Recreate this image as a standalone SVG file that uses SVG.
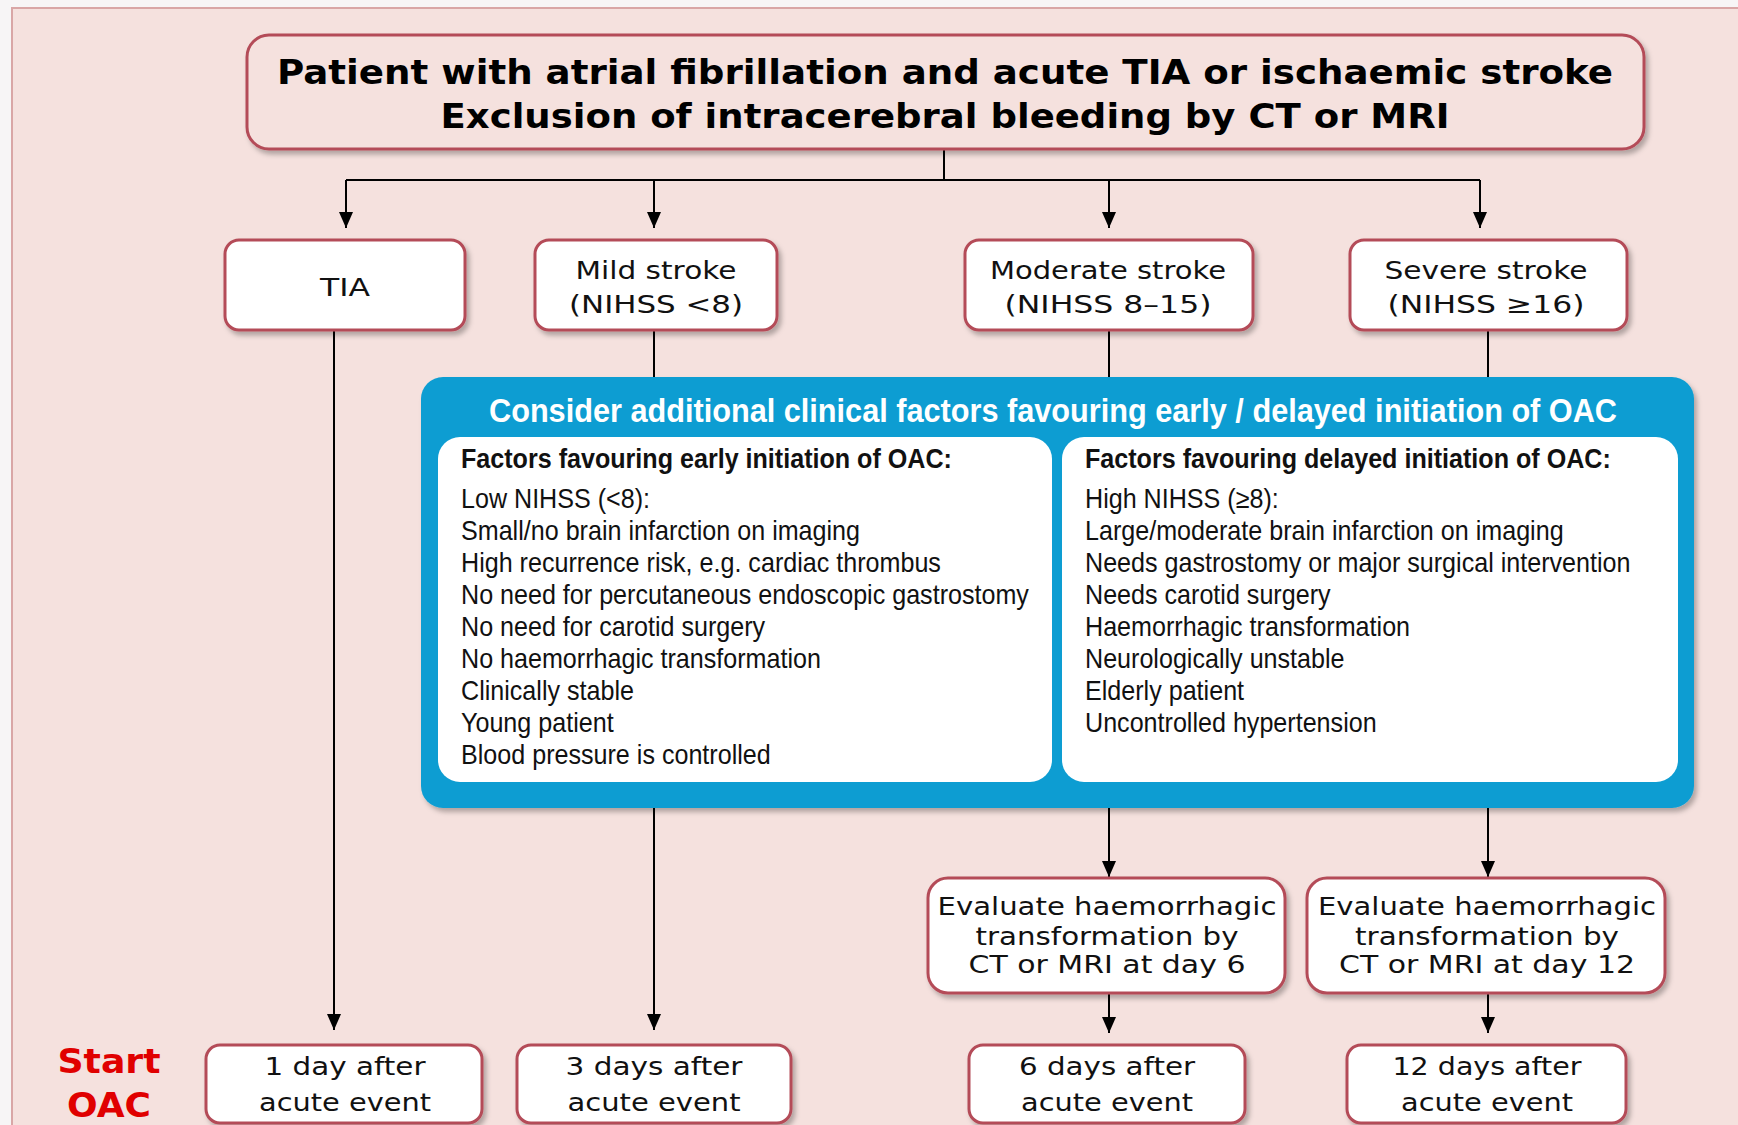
<svg xmlns="http://www.w3.org/2000/svg" width="1738" height="1125" viewBox="0 0 1738 1125">
<defs>
<style>
.box{fill:#ffffff;stroke:#b44c58;stroke-width:3;}
.tbox{fill:#f5e1de;stroke:#b44c58;stroke-width:3;}
.ln{fill:none;stroke:#000;stroke-width:2;}
.v{font-family:"DejaVu Sans","Verdana",sans-serif;font-size:25px;fill:#111;text-anchor:middle;}
.ttl{font-family:"DejaVu Sans","Verdana",sans-serif;font-size:34px;font-weight:bold;fill:#000;text-anchor:middle;}
.n{font-family:"Liberation Sans",Arial,sans-serif;font-size:27px;fill:#111;}
.nb{font-family:"Liberation Sans",Arial,sans-serif;font-size:27px;font-weight:bold;fill:#111;}
.bt{font-family:"Liberation Sans",Arial,sans-serif;font-size:34px;font-weight:bold;fill:#fff;text-anchor:middle;}
.red{font-family:"DejaVu Sans","Verdana",sans-serif;font-size:34px;font-weight:bold;fill:#e00000;text-anchor:middle;}
</style>
<filter id="sh" x="-5%" y="-10%" width="115%" height="130%">
<feDropShadow dx="3" dy="4" stdDeviation="2.5" flood-color="#000" flood-opacity="0.28"/>
</filter>
<marker id="ar" markerUnits="userSpaceOnUse" markerWidth="16" markerHeight="14" refX="16" refY="7" orient="auto">
<path d="M0,0 L16,7 L0,14 z" fill="#000"/>
</marker>
</defs>
<rect x="0" y="0" width="1738" height="1125" fill="#f7f5f6"/>
<rect x="12" y="8" width="1740" height="1130" fill="#f5e1de" stroke="#d9a6a6" stroke-width="2"/>

<g id="connectors">
<path class="ln" d="M944 149 V180 M346 180 H1480"/>
<path class="ln" d="M346 180 V228" marker-end="url(#ar)"/>
<path class="ln" d="M654 180 V228" marker-end="url(#ar)"/>
<path class="ln" d="M1109 180 V228" marker-end="url(#ar)"/>
<path class="ln" d="M1480 180 V228" marker-end="url(#ar)"/>
<path class="ln" d="M334 330 V1030" marker-end="url(#ar)"/>
<path class="ln" d="M654 330 V378 M1109 330 V378 M1488 330 V378"/>
<path class="ln" d="M654 808 V1030" marker-end="url(#ar)"/>
<path class="ln" d="M1109 808 V877" marker-end="url(#ar)"/>
<path class="ln" d="M1488 808 V877" marker-end="url(#ar)"/>
<path class="ln" d="M1109 993 V1033" marker-end="url(#ar)"/>
<path class="ln" d="M1488 993 V1033" marker-end="url(#ar)"/>
</g>

<g id="title">
<rect class="tbox" x="247" y="35" width="1397" height="114" rx="22" filter="url(#sh)"/>
<text class="ttl" x="945" y="84" textLength="1336" lengthAdjust="spacingAndGlyphs">Patient with atrial fibrillation and acute TIA or ischaemic stroke</text>
<text class="ttl" x="945" y="128" textLength="1009" lengthAdjust="spacingAndGlyphs">Exclusion of intracerebral bleeding by CT or MRI</text>
</g>

<g id="tia">
<rect class="box" x="225" y="240" width="240" height="90" rx="14" filter="url(#sh)"/>
<text class="v" x="345" y="296" textLength="50" lengthAdjust="spacingAndGlyphs">TIA</text>
</g>
<g id="mild">
<rect class="box" x="535" y="240" width="242" height="90" rx="14" filter="url(#sh)"/>
<text class="v" x="656" y="279" textLength="161" lengthAdjust="spacingAndGlyphs">Mild stroke</text>
<text class="v" x="656" y="313" textLength="174" lengthAdjust="spacingAndGlyphs">(NIHSS &lt;8)</text>
</g>
<g id="moderate">
<rect class="box" x="965" y="240" width="288" height="90" rx="14" filter="url(#sh)"/>
<text class="v" x="1108" y="279" textLength="236" lengthAdjust="spacingAndGlyphs">Moderate stroke</text>
<text class="v" x="1108" y="313" textLength="207" lengthAdjust="spacingAndGlyphs">(NIHSS 8–15)</text>
</g>
<g id="severe">
<rect class="box" x="1350" y="240" width="277" height="90" rx="14" filter="url(#sh)"/>
<text class="v" x="1486" y="279" textLength="203" lengthAdjust="spacingAndGlyphs">Severe stroke</text>
<text class="v" x="1486" y="313" textLength="197" lengthAdjust="spacingAndGlyphs">(NIHSS ≥16)</text>
</g>

<g id="factors">
<rect x="421" y="377" width="1273" height="431" rx="22" fill="#0b9dd2" filter="url(#sh)"/>
<text class="bt" x="1053" y="422" textLength="1128" lengthAdjust="spacingAndGlyphs">Consider additional clinical factors favouring early / delayed initiation of OAC</text>
<rect x="438" y="437" width="614" height="345" rx="22" fill="#fff"/>
<rect x="1062" y="437" width="616" height="345" rx="22" fill="#fff"/>
<g transform="translate(461,0) scale(0.93,1)">
<text class="nb" x="0" y="468">Factors favouring early initiation of OAC:</text>
<text class="n" x="0" y="508">Low NIHSS (&lt;8):</text>
<text class="n" x="0" y="540">Small/no brain infarction on imaging</text>
<text class="n" x="0" y="572">High recurrence risk, e.g. cardiac thrombus</text>
<text class="n" x="0" y="604">No need for percutaneous endoscopic gastrostomy</text>
<text class="n" x="0" y="636">No need for carotid surgery</text>
<text class="n" x="0" y="668">No haemorrhagic transformation</text>
<text class="n" x="0" y="700">Clinically stable</text>
<text class="n" x="0" y="732">Young patient</text>
<text class="n" x="0" y="764">Blood pressure is controlled</text>
</g>
<g transform="translate(1085,0) scale(0.93,1)">
<text class="nb" x="0" y="468">Factors favouring delayed initiation of OAC:</text>
<text class="n" x="0" y="508">High NIHSS (≥8):</text>
<text class="n" x="0" y="540">Large/moderate brain infarction on imaging</text>
<text class="n" x="0" y="572">Needs gastrostomy or major surgical intervention</text>
<text class="n" x="0" y="604">Needs carotid surgery</text>
<text class="n" x="0" y="636">Haemorrhagic transformation</text>
<text class="n" x="0" y="668">Neurologically unstable</text>
<text class="n" x="0" y="700">Elderly patient</text>
<text class="n" x="0" y="732">Uncontrolled hypertension</text>
</g>
</g>

<g id="eval6">
<rect class="box" x="928" y="878" width="357" height="115" rx="20" filter="url(#sh)"/>
<text class="v" x="1107" y="915" textLength="339" lengthAdjust="spacingAndGlyphs">Evaluate haemorrhagic</text>
<text class="v" x="1107" y="945" textLength="263" lengthAdjust="spacingAndGlyphs">transformation by</text>
<text class="v" x="1107" y="973" textLength="277" lengthAdjust="spacingAndGlyphs">CT or MRI at day 6</text>
</g>
<g id="eval12">
<rect class="box" x="1307" y="878" width="358" height="115" rx="20" filter="url(#sh)"/>
<text class="v" x="1487" y="915" textLength="338" lengthAdjust="spacingAndGlyphs">Evaluate haemorrhagic</text>
<text class="v" x="1487" y="945" textLength="264" lengthAdjust="spacingAndGlyphs">transformation by</text>
<text class="v" x="1487" y="973" textLength="296" lengthAdjust="spacingAndGlyphs">CT or MRI at day 12</text>
</g>

<g id="start-label">
<text class="red" x="109" y="1073" textLength="103" lengthAdjust="spacingAndGlyphs">Start</text>
<text class="red" x="109" y="1117" textLength="84" lengthAdjust="spacingAndGlyphs">OAC</text>
</g>
<g id="day1">
<rect class="box" x="206" y="1045" width="276" height="78" rx="14" filter="url(#sh)"/>
<text class="v" x="345" y="1075" textLength="161" lengthAdjust="spacingAndGlyphs">1 day after</text>
<text class="v" x="345" y="1111" textLength="172" lengthAdjust="spacingAndGlyphs">acute event</text>
</g>
<g id="day3">
<rect class="box" x="517" y="1045" width="274" height="78" rx="14" filter="url(#sh)"/>
<text class="v" x="654" y="1075" textLength="177" lengthAdjust="spacingAndGlyphs">3 days after</text>
<text class="v" x="654" y="1111" textLength="173" lengthAdjust="spacingAndGlyphs">acute event</text>
</g>
<g id="day6">
<rect class="box" x="969" y="1045" width="276" height="78" rx="14" filter="url(#sh)"/>
<text class="v" x="1107" y="1075" textLength="176" lengthAdjust="spacingAndGlyphs">6 days after</text>
<text class="v" x="1107" y="1111" textLength="172" lengthAdjust="spacingAndGlyphs">acute event</text>
</g>
<g id="day12">
<rect class="box" x="1347" y="1045" width="279" height="78" rx="14" filter="url(#sh)"/>
<text class="v" x="1487" y="1075" textLength="189" lengthAdjust="spacingAndGlyphs">12 days after</text>
<text class="v" x="1487" y="1111" textLength="172" lengthAdjust="spacingAndGlyphs">acute event</text>
</g>
</svg>
